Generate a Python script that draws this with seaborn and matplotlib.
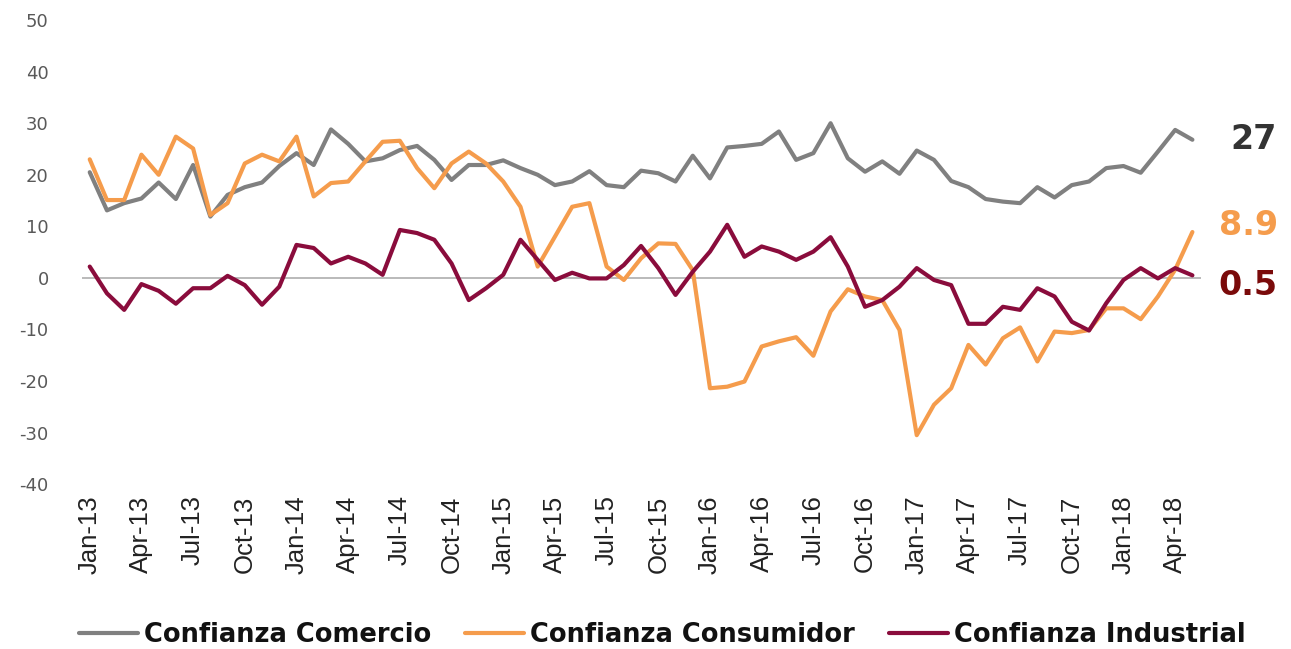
import matplotlib
matplotlib.use("Agg")
import matplotlib.pyplot as plt
from matplotlib import font_manager
import seaborn as sns
import numpy as np
import pandas as pd

# monthly confidence indices, Jan-13 .. May-18
comercio = [20.5, 13.1, 14.5, 15.4, 18.5, 15.3, 21.9, 11.9, 16.1, 17.6, 18.5, 21.7, 24.2,
            21.9, 28.8, 26.0, 22.6, 23.2, 24.8, 25.6, 22.9, 19.0, 21.9, 21.9, 22.8, 21.3,
            20.0, 18.0, 18.7, 20.7, 18.0, 17.6, 20.8, 20.3, 18.7, 23.7, 19.3, 25.3, 25.6,
            26.0, 28.4, 22.9, 24.2, 30.0, 23.2, 20.6, 22.6, 20.2, 24.7, 22.9, 18.8, 17.6,
            15.3, 14.8, 14.5, 17.6, 15.6, 18.0, 18.7, 21.3, 21.7, 20.4, 24.5, 28.7, 26.8]
consumidor = [23.0, 15.1, 15.1, 23.9, 20.0, 27.4, 25.1, 12.2, 14.5, 22.2, 23.9, 22.6, 27.4,
              15.8, 18.4, 18.7, 22.6, 26.4, 26.6, 21.3, 17.4, 22.2, 24.5, 22.2, 18.7, 13.8,
              2.2, 8.0, 13.8, 14.5, 2.2, -0.4, 3.8, 6.7, 6.6, 1.5, -21.4, -21.1, -20.1,
              -13.3, -12.3, -11.5, -15.1, -6.5, -2.2, -3.6, -4.3, -10.1, -30.5, -24.6, -21.4, -13.0,
              -16.8, -11.7, -9.6, -16.2, -10.4, -10.7, -10.1, -5.9, -5.9, -8.0, -3.6, 1.6, 8.9]
industrial = [2.2, -3.0, -6.2, -1.2, -2.5, -5.0, -2.0, -2.0, 0.4, -1.4, -5.2, -1.7, 6.4,
              5.8, 2.8, 4.1, 2.8, 0.6, 9.3, 8.7, 7.4, 2.8, -4.3, -2.0, 0.6, 7.4,
              3.5, -0.4, 1.0, -0.1, -0.1, 2.5, 6.2, 1.9, -3.3, 1.2, 5.1, 10.3, 4.1,
              6.1, 5.1, 3.5, 5.1, 7.9, 2.2, -5.6, -4.3, -1.7, 1.9, -0.4, -1.4, -8.9,
              -8.9, -5.6, -6.2, -2.0, -3.6, -8.5, -10.2, -4.9, -0.4, 1.9, -0.1, 1.9, 0.5]
end_labels = ["27", "8.9", "0.5"]
series_names = ["Confianza Comercio", "Confianza Consumidor", "Confianza Industrial"]

months = pd.date_range("2013-01-01", periods=len(comercio), freq="MS")
month_labels = [m.strftime("%b-%y") for m in months]

df = pd.DataFrame({
    "idx": np.tile(np.arange(len(months)), 3),
    "valor": comercio + consumidor + industrial,
    "serie": np.repeat(series_names, len(months)),
})

colors = {"Confianza Comercio": "#808080",
          "Confianza Consumidor": "#f59c4c",
          "Confianza Industrial": "#8a0c3c"}
label_colors = ["#333333", "#f59c4c", "#7a0a0a"]

sns.set_style("white")
installed = {f.name for f in font_manager.fontManager.ttflist}
narrow = "Liberation Sans Narrow" if "Liberation Sans Narrow" in installed else "Liberation Sans"

fig = plt.figure(figsize=(12.91, 6.49), dpi=100)
ax = fig.add_axes([0.0635, 0.254, 0.8668, 0.715])

ax.axhline(0, color="#b4b4b4", lw=1.3, zorder=0)
sns.lineplot(data=df, x="idx", y="valor", hue="serie", palette=colors,
             linewidth=3, ax=ax, legend=False)

ax.set_xlim(-0.45, 64.5)
ax.set_ylim(-40, 50)
ax.set_yticks(range(-40, 51, 10))
ax.set_yticklabels([str(v) for v in range(-40, 51, 10)], fontsize=13, color="#595959")
tick_pos = list(range(0, len(months), 3))
ax.set_xticks(tick_pos)
ax.set_xticklabels([month_labels[i] for i in tick_pos], rotation=90,
                   fontsize=18.5, family=narrow, color="#222222")
ax.tick_params(axis="y", length=0, pad=24)
ax.tick_params(axis="x", length=0, pad=8)
ax.set_xlabel("")
ax.set_ylabel("")
for s in ax.spines.values():
    s.set_visible(False)

last = len(months) - 1
ends = [comercio[-1], consumidor[-1], industrial[-1]]
offsets = [(27, 0), (19, 5), (19, -7)]
for txt, yv, off, c in zip(end_labels, ends, offsets, label_colors):
    ax.annotate(txt, xy=(last, yv), xytext=off, textcoords="offset points",
                ha="left", va="center", fontsize=24, fontweight="bold",
                color=c, annotation_clip=False)

handles = [plt.Line2D([], [], color=colors[n], lw=3) for n in series_names]
leg = fig.legend(handles, series_names, loc="center", bbox_to_anchor=(0.513, 0.022),
                 ncol=3, frameon=False, handlelength=2.3, handletextpad=0.25,
                 columnspacing=1.3, prop={"weight": "bold", "size": 18.5})
for t in leg.get_texts():
    t.set_color("#111111")

fig.savefig("out.png", dpi=100)
